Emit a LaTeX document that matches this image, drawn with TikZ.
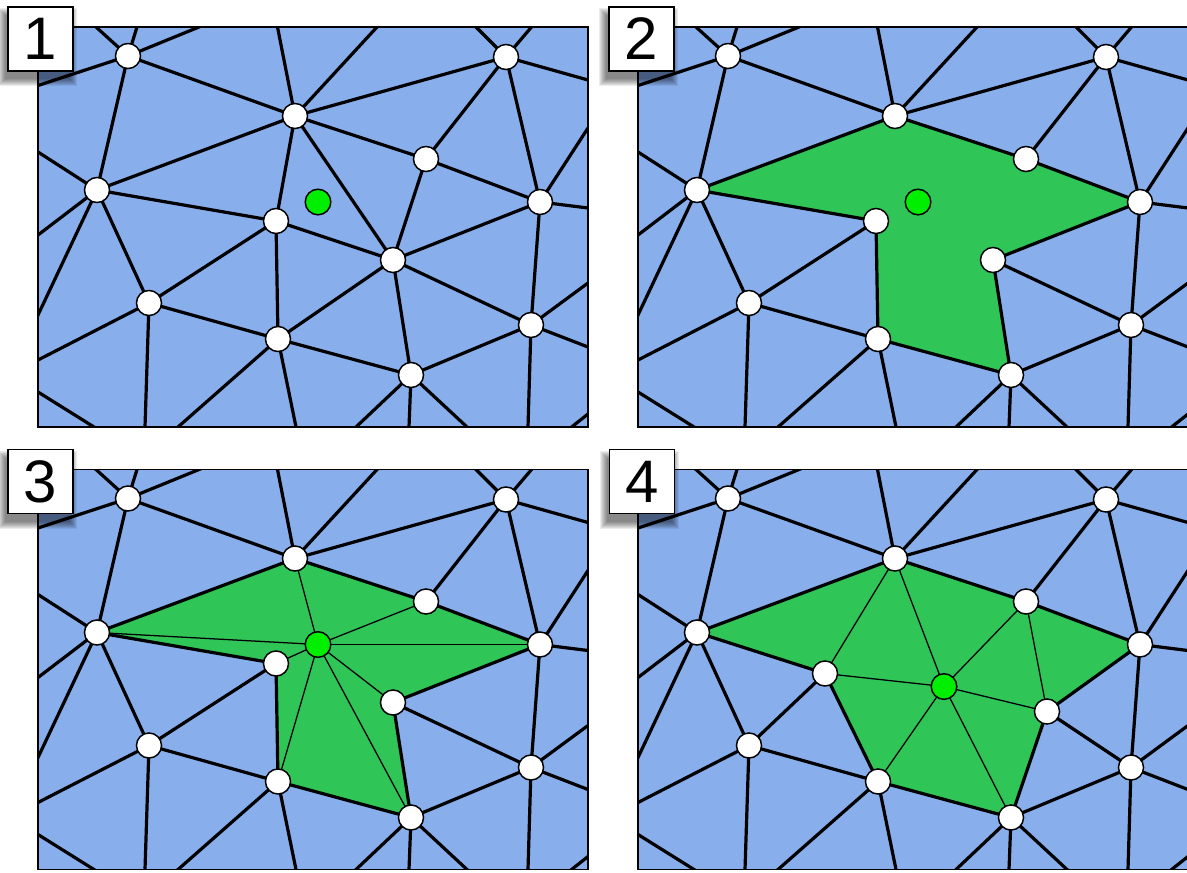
\documentclass[tikz,border=0pt]{standalone}
\usepackage{fontspec}
\setmainfont{Liberation Sans}
\definecolor{meshblue}{RGB}{136,174,236}
\definecolor{cavity}{RGB}{47,197,87}
\definecolor{newpt}{RGB}{0,238,0}
\tikzset{
  meshedge/.style={line width=2.4pt},
  thinedge/.style={line width=0.95pt},
  outedge/.style={line width=2.4pt, shorten >=-12pt},
  freeedge/.style={line width=2.4pt, shorten >=-12pt, shorten <=-12pt},
  vtx/.style={circle, draw=black, fill=white, line width=1.1pt, minimum size=18.8pt, inner sep=0pt},
  newvtx/.style={vtx, fill=newpt, minimum size=19.2pt},
  panelframe/.style={draw=black, line width=1pt},
  shadowlayer/.style={fill=black, opacity=0.075},
  labelbox/.style={draw=black, fill=white, line width=1pt, minimum width=48.75pt, minimum height=48pt, inner sep=0pt,
    font=\fontsize{45}{45}\selectfont},
}
% positions of the mesh vertices: #1 = position of H, #2 = position of I
\newcommand\meshcoords[2]{%
  \coordinate (A) at (128,56);
  \coordinate (B) at (506,57);
  \coordinate (C) at (295,116);
  \coordinate (D) at (426,159);
  \coordinate (E) at (97,190);
  \coordinate (F) at (540,202);
  \coordinate (H) at (#1);
  \coordinate (I) at (#2);
  \coordinate (J) at (149,303);
  \coordinate (K) at (531,325);
  \coordinate (L) at (278,339);
  \coordinate (M) at (411,375);
  \coordinate (t1) at (96,27);
  \coordinate (t2) at (137,27);
  \coordinate (t3) at (199,27);
  \coordinate (t4) at (277.5,27);
  \coordinate (t5) at (377,27);
  \coordinate (t6) at (476,27);
  \coordinate (t7) at (531.5,27);
  \coordinate (l1) at (38,85.5);
  \coordinate (l2) at (38,152);
  \coordinate (l3) at (38,235);
  \coordinate (l4) at (38,315);
  \coordinate (l5) at (38,360);
  \coordinate (l6) at (38,392);
  \coordinate (b0) at (94,427);
  \coordinate (r1) at (588,80);
  \coordinate (r2) at (588,128);
  \coordinate (r3) at (588,208);
  \coordinate (r4) at (588,283);
  \coordinate (r5) at (588,347);
  \coordinate (r6) at (588,414);
  \coordinate (b9) at (571.6,427);
  \coordinate (b1) at (145,427);
  \coordinate (b2) at (178,427);
  \coordinate (b3) at (296,427);
  \coordinate (b4) at (356,427);
  \coordinate (b5) at (409,427);
  \coordinate (b6) at (467,427);
  \coordinate (b7) at (528,427);
}
\newcommand\meshnodes{%
  \foreach \vv in {A,B,C,D,E,F,H,I,J,K,L,M}
    \node[vtx] (v\vv) at (\vv) {};
  \node[newvtx] (vG) at (G) {};
}
\newcommand\commonedges{%
  \foreach \ea/\eb in {A/C,A/E,C/B,C/D,C/E,B/D,B/F,D/F,F/K,E/J,J/L,L/M,M/K}
    \draw[meshedge] (\ea) -- (\eb);
  \foreach \ea/\eb in {A/t1,A/t2,A/t3,A/l1,C/t4,C/t5,B/t6,B/t7,B/r1,F/r2,F/r3,E/l2,E/l3,E/l4,J/l5,J/b1,L/b2,L/b3,M/b4,M/b5,M/b6,K/r4,K/r5,K/b7}
    \draw[outedge] (\ea) -- (\eb);
  \draw[freeedge] (l6) -- (b0);
  \draw[freeedge] (r6) -- (b9);
}
\newcommand\panelback{%
  \fill[meshblue] (38,27) rectangle (588,427);
}
\newcommand\cavityfill{%
  \fill[cavity] (E) -- (C) -- (D) -- (F) -- (I) -- (M) -- (L) -- (H) -- cycle;
}
% label box with soft drop shadow; #1 = centre x, #2 = text
\newcommand\panellabel[2]{%
  \foreach \k in {0,...,7}
    \fill[shadowlayer] (#1-32.5-3-\k,39-32+8-\k) rectangle (#1+32.5-3+\k,39+32+8+\k);
  \node[labelbox] (lab) at (#1,39) {#2};
}
\begin{document}
\begin{tikzpicture}[x=0.75pt, y=-0.75pt]
\useasboundingbox (0,0) rectangle (1187,872);

% ---------- panel 1 ----------
\begin{scope}[name prefix=p1-]
  \meshcoords{276,221}{393,260}
  \coordinate (G) at (318,202);
  \panelback
  \begin{scope}
    \clip (38,27) rectangle (588,427);
    \commonedges
    \foreach \ea/\eb in {C/H,E/H,H/I,H/J,H/L,C/I,D/I,F/I,I/K,I/L,I/M}
      \draw[meshedge] (\ea) -- (\eb);
  \end{scope}
  \draw[panelframe] (38,27) rectangle (588,427);
  \meshnodes
  \panellabel{40.5}{1}
\end{scope}

% ---------- panel 2 ----------
\begin{scope}[shift={(600,0)}, name prefix=p2-]
  \meshcoords{276,221}{393,260}
  \coordinate (G) at (318,202);
  \panelback
  \cavityfill
  \begin{scope}
    \clip (38,27) rectangle (588,427);
    \commonedges
    \foreach \ea/\eb in {E/H,H/J,H/L,F/I,I/K,I/M}
      \draw[meshedge] (\ea) -- (\eb);
  \end{scope}
  \draw[panelframe] (38,27) rectangle (588,427);
  \meshnodes
  \panellabel{41.5}{2}
\end{scope}

% ---------- panel 3 ----------
\begin{scope}[shift={(0,442.5)}, name prefix=p3-]
  \meshcoords{276,221}{393,260}
  \coordinate (G) at (318,202);
  \panelback
  \cavityfill
  \begin{scope}
    \clip (38,27) rectangle (588,427);
    \foreach \eb in {E,C,D,F,I,M,L,H}
      \draw[thinedge] (G) -- (\eb);
    \commonedges
    \foreach \ea/\eb in {E/H,H/J,H/L,F/I,I/K,I/M}
      \draw[meshedge] (\ea) -- (\eb);
  \end{scope}
  \draw[panelframe] (38,27) rectangle (588,427);
  \meshnodes
  \panellabel{40.5}{3}
\end{scope}

% ---------- panel 4 ----------
\begin{scope}[shift={(600,442.5)}, name prefix=p4-]
  \meshcoords{225,231}{447,269}
  \coordinate (G) at (344,244);
  \panelback
  \cavityfill
  \begin{scope}
    \clip (38,27) rectangle (588,427);
    \foreach \ea/\eb in {C/H,D/I,G/H,G/C,G/D,G/I,G/M,G/L}
      \draw[thinedge] (\ea) -- (\eb);
    \commonedges
    \foreach \ea/\eb in {E/H,H/J,H/L,F/I,I/K,I/M}
      \draw[meshedge] (\ea) -- (\eb);
  \end{scope}
  \draw[panelframe] (38,27) rectangle (588,427);
  \meshnodes
  \panellabel{42}{4}
\end{scope}
\end{tikzpicture}
\end{document}
